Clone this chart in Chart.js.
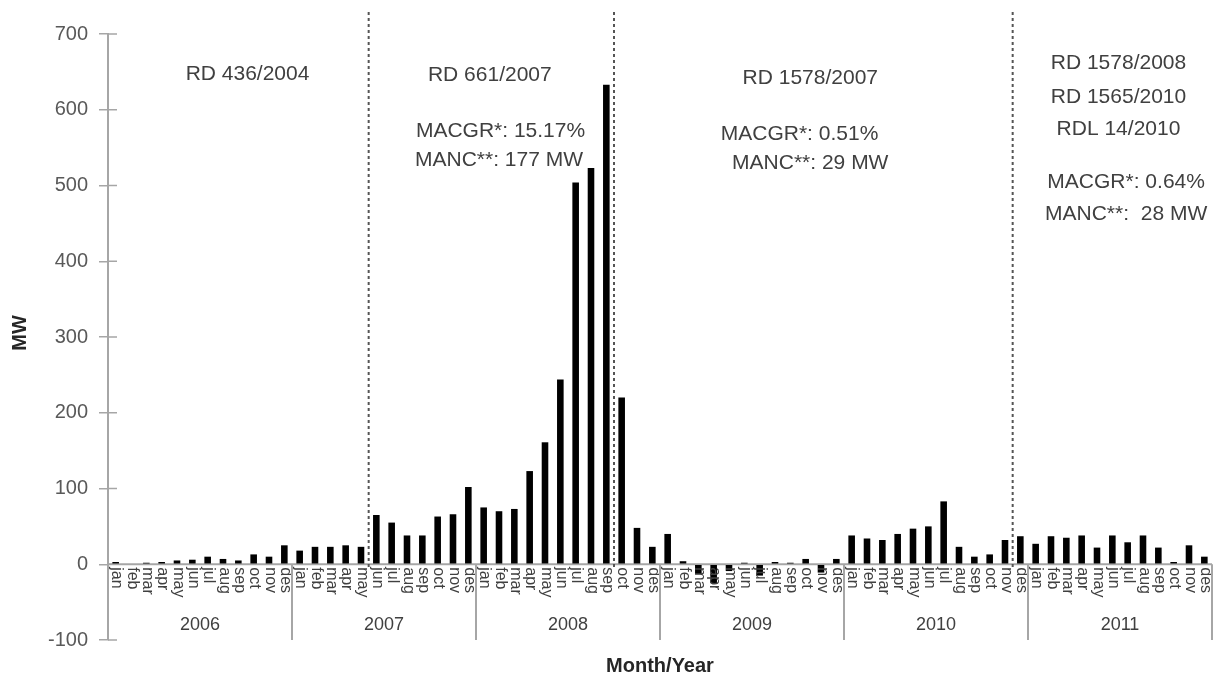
<!DOCTYPE html>
<html>
<head>
<meta charset="utf-8">
<script src="https://cdn.jsdelivr.net/npm/chart.js@4"></script>
<style>
  html, body { margin: 0; padding: 0; background: #ffffff; }
  #wrap { width: 1216px; height: 676px; }
</style>
</head>
<body>
<div id="wrap"><canvas id="c" width="1216" height="676"></canvas></div>
<script>
// Monthly installed capacity change (MW), 2006-2011
const years = ['2006', '2007', '2008', '2009', '2010', '2011'];
const months = ['jan', 'feb', 'mar', 'apr', 'may', 'jun', 'jul', 'aug', 'sep', 'oct', 'nov', 'des'];

const mw2006 = [3, 1, 2, 3, 5, 6, 10, 7, 5, 13, 10, 25];
const mw2007 = [18, 23, 23, 25, 23, 65, 55, 38, 38, 63, 66, 102];
const mw2008 = [75, 70, 73, 123, 161, 244, 504, 523, 633, 220, 48, 23];
const mw2009 = [40, 4, -13, -25, -9, 2, -15, 3, 2, 7, -11, 7];
const mw2010 = [38, 34, 32, 40, 47, 50, 83, 23, 10, 13, 32, 37];
const mw2011 = [27, 37, 35, 38, 22, 38, 29, 38, 22, 3, 25, 10];

const yTicks = [-100, 0, 100, 200, 300, 400, 500, 600, 700];

// Regulation periods: the dashed separator sits after these months (index in the series)
const periodBreaks = [16, 32, 58];

// Text notes inside the plot, placed at (category position, MW)
const notes = [
  { text: 'RD 436/2004',      x: 8.6,  y: 647 },
  { text: 'RD 661/2007',      x: 24.4, y: 645 },
  { text: 'MACGR*: 15.17%',   x: 25.1, y: 572 },
  { text: 'MANC**: 177 MW',   x: 25.0, y: 533 },
  { text: 'RD 1578/2007',     x: 45.3, y: 641 },
  { text: 'MACGR*: 0.51%',    x: 44.6, y: 568 },
  { text: 'MANC**: 29 MW',    x: 45.3, y: 529 },
  { text: 'RD 1578/2008',     x: 65.4, y: 661 },
  { text: 'RD 1565/2010',     x: 65.4, y: 616 },
  { text: 'RDL 14/2010',      x: 65.4, y: 574 },
  { text: 'MACGR*: 0.64%',    x: 65.9, y: 504 },
  { text: 'MANC**:  28 MW',   x: 65.9, y: 462 }
];

const values = [].concat(mw2006, mw2007, mw2008, mw2009, mw2010, mw2011);
const labels = [];
years.forEach(y => months.forEach(m => labels.push(m + ' ' + y)));

const FONT = '"Liberation Sans", Arial, sans-serif';
const AXIS_GREY = '#a6a6a6';
const TEXT_GREY = '#404040';

const decorations = {
  id: 'decorations',
  beforeDatasetsDraw(chart) {
    const ctx = chart.ctx;
    const y = chart.scales.y;
    const area = chart.chartArea;
    const y0 = y.getPixelForValue(0);
    ctx.save();
    // zero line
    ctx.strokeStyle = AXIS_GREY;
    ctx.lineWidth = 2;
    ctx.beginPath();
    ctx.moveTo(area.left, y0);
    ctx.lineTo(area.right, y0);
    ctx.stroke();
    // right-hand half of the y tick marks
    ctx.lineWidth = 1.5;
    yTicks.forEach(v => {
      const py = y.getPixelForValue(v);
      ctx.beginPath();
      ctx.moveTo(area.left, py);
      ctx.lineTo(area.left + 9, py);
      ctx.stroke();
    });
    ctx.restore();
  },
  afterDraw(chart) {
    const ctx = chart.ctx;
    const x = chart.scales.x, y = chart.scales.y;
    const area = chart.chartArea;
    const y0 = y.getPixelForValue(0);
    const n = labels.length;
    const edge = i => {
      if (i <= 0) return area.left;
      if (i >= n) return area.right;
      return (x.getPixelForValue(i - 1) + x.getPixelForValue(i)) / 2;
    };
    ctx.save();

    // month labels, rotated to read downward
    ctx.fillStyle = TEXT_GREY;
    ctx.font = '16px ' + FONT;
    ctx.textAlign = 'left';
    ctx.textBaseline = 'middle';
    for (let i = 0; i < n; i++) {
      ctx.save();
      ctx.translate(x.getPixelForValue(i) + 1, y0 + 3);
      ctx.rotate(Math.PI / 2);
      ctx.fillText(months[i % 12], 0, 0);
      ctx.restore();
    }

    // year group separators and labels
    ctx.strokeStyle = AXIS_GREY;
    ctx.lineWidth = 2;
    for (let k = 0; k <= years.length; k++) {
      const px = edge(k * 12);
      ctx.beginPath();
      ctx.moveTo(px, y0);
      ctx.lineTo(px, area.bottom);
      ctx.stroke();
    }
    ctx.font = '18px ' + FONT;
    ctx.textAlign = 'center';
    years.forEach((yr, k) => {
      const cx = (edge(k * 12) + edge(k * 12 + 12)) / 2;
      ctx.fillText(yr, cx, 625);
    });

    // regulation period separators
    ctx.strokeStyle = '#555555';
    ctx.lineWidth = 2;
    ctx.setLineDash([3, 3]);
    periodBreaks.forEach(i => {
      const px = edge(i + 1);
      ctx.beginPath();
      ctx.moveTo(px, 12);
      ctx.lineTo(px, y0 + 4);
      ctx.stroke();
    });
    ctx.setLineDash([]);

    // notes
    ctx.fillStyle = TEXT_GREY;
    ctx.font = '21px ' + FONT;
    ctx.textAlign = 'center';
    ctx.textBaseline = 'middle';
    notes.forEach(nt => {
      const px = area.left + (nt.x + 0.5) * (area.right - area.left) / n;
      ctx.fillText(nt.text, px, y.getPixelForValue(nt.y));
    });

    // axis titles
    ctx.fillStyle = '#262626';
    ctx.font = 'bold 20px ' + FONT;
    ctx.fillText('Month/Year', 660, 666);
    ctx.save();
    ctx.translate(20, 333);
    ctx.rotate(-Math.PI / 2);
    ctx.fillText('MW', 0, 0);
    ctx.restore();

    ctx.restore();
  }
};

new Chart(document.getElementById('c'), {
  type: 'bar',
  data: {
    labels: labels,
    datasets: [{
      data: values,
      backgroundColor: '#000000',
      borderWidth: 0,
      barPercentage: 0.43,
      categoryPercentage: 1.0
    }]
  },
  options: {
    responsive: false,
    devicePixelRatio: 1,
    animation: false,
    events: [],
    layout: { padding: { top: 34, bottom: 36, right: 4, left: 0 } },
    plugins: { legend: { display: false }, tooltip: { enabled: false } },
    scales: {
      x: {
        type: 'category',
        offset: true,
        grid: { display: false },
        border: { display: false },
        ticks: { display: false },
        afterFit(s) { s.height = 0; }
      },
      y: {
        min: -100,
        max: 700,
        afterBuildTicks(s) { s.ticks = yTicks.map(v => ({ value: v })); },
        ticks: {
          color: '#595959',
          font: { family: FONT, size: 20 },
          padding: 11
        },
        grid: {
          drawOnChartArea: false,
          drawTicks: true,
          tickLength: 9,
          color: AXIS_GREY,
          lineWidth: 1.5
        },
        border: { color: AXIS_GREY, width: 2 },
        afterFit(s) { s.width = 108; }
      }
    }
  },
  plugins: [decorations]
});
</script>
</body>
</html>
